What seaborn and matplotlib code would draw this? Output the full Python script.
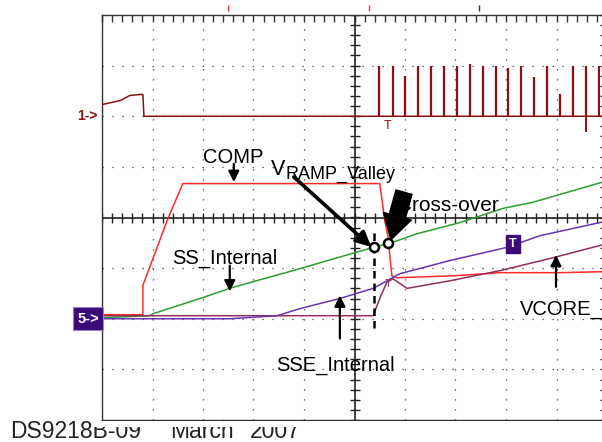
import numpy as np
import pandas as pd
import matplotlib
matplotlib.use("Agg")
import matplotlib.pyplot as plt
from matplotlib.patches import Rectangle
import seaborn as sns

# scope traces, in screen divisions (x: 0..10, y: -4..4, centre = 0)
ch1_x = [0.0, 0.36, 0.55, 0.75, 0.81, 0.83, 9.95]
ch1_y = [2.23, 2.31, 2.41, 2.43, 2.43, 2.0, 2.0]
pulse_x = [5.49, 5.76, 6.00, 6.26, 6.51, 6.77, 7.03, 7.29, 7.54,
           7.80, 8.04, 8.30, 8.55, 8.81, 9.07, 9.33, 9.58, 9.84]
pulse_top = [3.0, 3.0, 2.8, 3.0, 3.0, 3.0, 3.0, 3.04, 3.0,
             3.0, 2.95, 3.0, 2.77, 3.0, 2.43, 3.0, 3.0, 3.0]
spike_x = [9.58]
spike_bottom = [1.68]

comp_x = [0.0, 0.81, 0.81, 1.29, 1.60, 5.50, 5.60, 5.66, 5.74, 5.84, 6.99, 7.88, 9.07, 9.95]
comp_y = [-1.92, -1.92, -1.34, -0.06, 0.67, 0.67, -0.06, -0.36, -1.15, -1.19, -1.15, -1.09, -1.09, -1.07]

ss_x = [0.0, 0.95, 1.01, 1.94, 2.59, 3.92, 5.37, 5.70, 6.24, 7.09, 7.94, 8.53, 9.95]
ss_y = [-1.98, -1.94, -1.90, -1.60, -1.38, -1.01, -0.59, -0.51, -0.32, -0.10, 0.18, 0.30, 0.71]

sse_x = [0.0, 2.53, 3.47, 3.92, 4.71, 5.37, 5.90, 6.89, 8.02, 8.67, 9.95]
sse_y = [-2.0, -2.0, -1.94, -1.80, -1.60, -1.40, -1.11, -0.85, -0.59, -0.36, -0.08]

vcore_x = [0.0, 5.37, 5.50, 5.64, 5.76, 6.04, 6.89, 7.88, 8.87, 9.95]
vcore_y = [-1.94, -1.94, -1.60, -1.28, -1.21, -1.40, -1.25, -1.05, -0.81, -0.53]

# cross-over points marked with open circles
circle_x = [5.39, 5.66]
circle_y = [-0.59, -0.51]

# trigger marks above the screen
trig_x = [2.50, 5.29, 7.47]
trig_c = ["#ff3030", "#ff3030", "#8b1010"]

C_CH1 = "#8b1010"
C_COMP = "#ff2a2a"
C_SS = "#2e9e2e"
C_SSE = "#6a35b0"
C_VCORE = "#932e5e"
C_BOX = "#3b0c78"

sns.set_style("white")
plt.rcParams["font.family"] = ["Liberation Sans", "DejaVu Sans"]
plt.rcParams["text.color"] = "black"

fig = plt.figure(figsize=(6.02, 4.42), dpi=100)
ax = fig.add_axes([102 / 602, 1 - 420 / 442, 505 / 602, 405 / 442])
ax.set_xlim(0, 10)
ax.set_ylim(-4, 4)

# graticule
ax.set_xticks(np.arange(0, 11, 1))
ax.set_yticks(np.arange(-4, 5, 1))
ax.set_xticks(np.arange(0, 10.01, 0.2), minor=True)
ax.set_yticks(np.arange(-4, 4.01, 0.2), minor=True)
ax.tick_params(which="both", direction="in", top=True, right=True, length=5,
               width=1, color="#333333", labelbottom=False, labelleft=False)
ax.grid(True, which="major", linestyle=(0, (1, 7)), color="#444444", lw=0.9)
for s in ax.spines.values():
    s.set_color("#333333")
    s.set_linewidth(1.0)
ax.axhline(0, color="#222222", lw=1.2, zorder=1)
ax.axvline(5, color="#222222", lw=1.2, zorder=1)
mt = np.arange(0, 10.01, 0.2)
ax.plot(mt, np.zeros_like(mt), ls="none", marker="|", ms=7, mew=1, color="#222222", zorder=1)
mt = np.arange(-4, 4.01, 0.2)
ax.plot(np.full_like(mt, 5.0), mt, ls="none", marker="_", ms=7, mew=1, color="#222222", zorder=1)

# traces
def trace(x, y, c):
    d = pd.DataFrame({"t": x, "v": y})
    sns.lineplot(data=d, x="t", y="v", sort=False, estimator=None, color=c, lw=1.1, ax=ax, zorder=3)

trace(ch1_x, ch1_y, C_CH1)
ax.vlines(pulse_x, 2.0, pulse_top, color=C_CH1, lw=1.6, zorder=3)
ax.vlines(spike_x, spike_bottom, 2.0, color=C_CH1, lw=1.4, zorder=3)
trace(comp_x, comp_y, C_COMP)
trace(ss_x, ss_y, C_SS)
trace(vcore_x, vcore_y, C_VCORE)
trace(sse_x, sse_y, C_SSE)
ax.set_xlabel("")
ax.set_ylabel("")

# channel markers
ax.text(-0.08, 2.0, "1->", color=C_CH1, fontsize=10, fontweight="bold",
        ha="right", va="center", clip_on=False)
ax.text(-0.06, -2.0, "5->", color="white", fontsize=10.5, fontweight="bold",
        ha="right", va="center", clip_on=False,
        bbox=dict(boxstyle="square,pad=0.3", fc=C_BOX, ec="#9a80c8", lw=0.8))
ax.text(8.14, -0.53, "T", color="white", fontsize=9, fontweight="bold", ha="center", va="center",
        bbox=dict(boxstyle="square,pad=0.25", fc=C_BOX, ec=C_BOX), zorder=5)
ax.text(5.66, 1.93, "T", color=C_CH1, fontsize=9, ha="center", va="top", zorder=4)
ax.text(5.66, -1.22, "T", color=C_VCORE, fontsize=8, ha="center", va="top", zorder=4)
for tx, tc in zip(trig_x, trig_c):
    ax.plot([tx], [4.13], marker="|", ms=4, color=tc, clip_on=False)

# annotations
fs = 14.5
ap = dict(arrowstyle="-|>", color="black", lw=1.6, mutation_scale=16, shrinkA=0, shrinkB=0)
ax.text(2.6, 1.19, "COMP", fontsize=fs, ha="center", va="center", zorder=6)
ax.annotate("", xy=(2.61, 0.70), xytext=(2.61, 1.06), arrowprops=ap, zorder=6)
ax.text(2.44, -0.81, "SS_Internal", fontsize=fs, ha="center", va="center", zorder=6)
ax.annotate("", xy=(2.53, -1.46), xytext=(2.53, -0.95), arrowprops=ap, zorder=6)
ax.text(4.63, -2.93, "SSE_Internal", fontsize=fs, ha="center", va="center", zorder=6)
ax.annotate("", xy=(4.71, -1.54), xytext=(4.71, -2.39), arrowprops=ap, zorder=6)
ax.text(8.28, -1.82, "VCORE_", fontsize=fs, ha="left", va="center", zorder=6)
ax.annotate("", xy=(8.99, -0.74), xytext=(8.99, -1.37), arrowprops=ap, zorder=6)

ax.text(3.35, 0.83, "V", fontsize=15.5, ha="left", va="baseline", zorder=6)
ax.text(3.64, 0.77, "RAMP_Valley", fontsize=13, ha="left", va="baseline", zorder=6)
ax.annotate("", xy=(5.33, -0.58), xytext=(3.80, 0.80),
            arrowprops=dict(arrowstyle="-|>", color="black", lw=2.6, mutation_scale=22,
                            shrinkA=0, shrinkB=0), zorder=6)
ax.text(5.84, 0.23, "Cross-over", fontsize=15, ha="left", va="center", zorder=5)
ax.annotate("", xy=(5.72, -0.44), xytext=(5.98, 0.50),
            arrowprops=dict(arrowstyle="simple,head_width=1.3,head_length=1.1,tail_width=0.75",
                            fc="black", ec="black", mutation_scale=16, shrinkA=0, shrinkB=0), zorder=6)
ax.plot([5.39, 5.39], [-0.30, -2.19], color="black", lw=1.8, ls=(0, (3, 2)), zorder=6)
ax.plot(circle_x, circle_y, ls="none", marker="o", ms=6.5, mfc="white", mec="black", mew=1.8, zorder=7)

# footer, partly hidden under the screen edge
ybase = 1 - 438 / 442
fig.text(10 / 602, ybase, "DS9218B-09", fontsize=16.5, color="#222222", va="baseline", zorder=1)
fig.text(170 / 602, ybase, "March", fontsize=16.5, color="#222222", va="baseline", zorder=1)
fig.text(250 / 602, ybase, "2007", fontsize=16.5, color="#222222", va="baseline", zorder=1)
fig.patches.append(Rectangle((93 / 602, 1 - 427 / 442), 1, 6 / 442, transform=fig.transFigure,
                             fc="white", ec="none", zorder=2))

fig.savefig("out.png", dpi=100)
